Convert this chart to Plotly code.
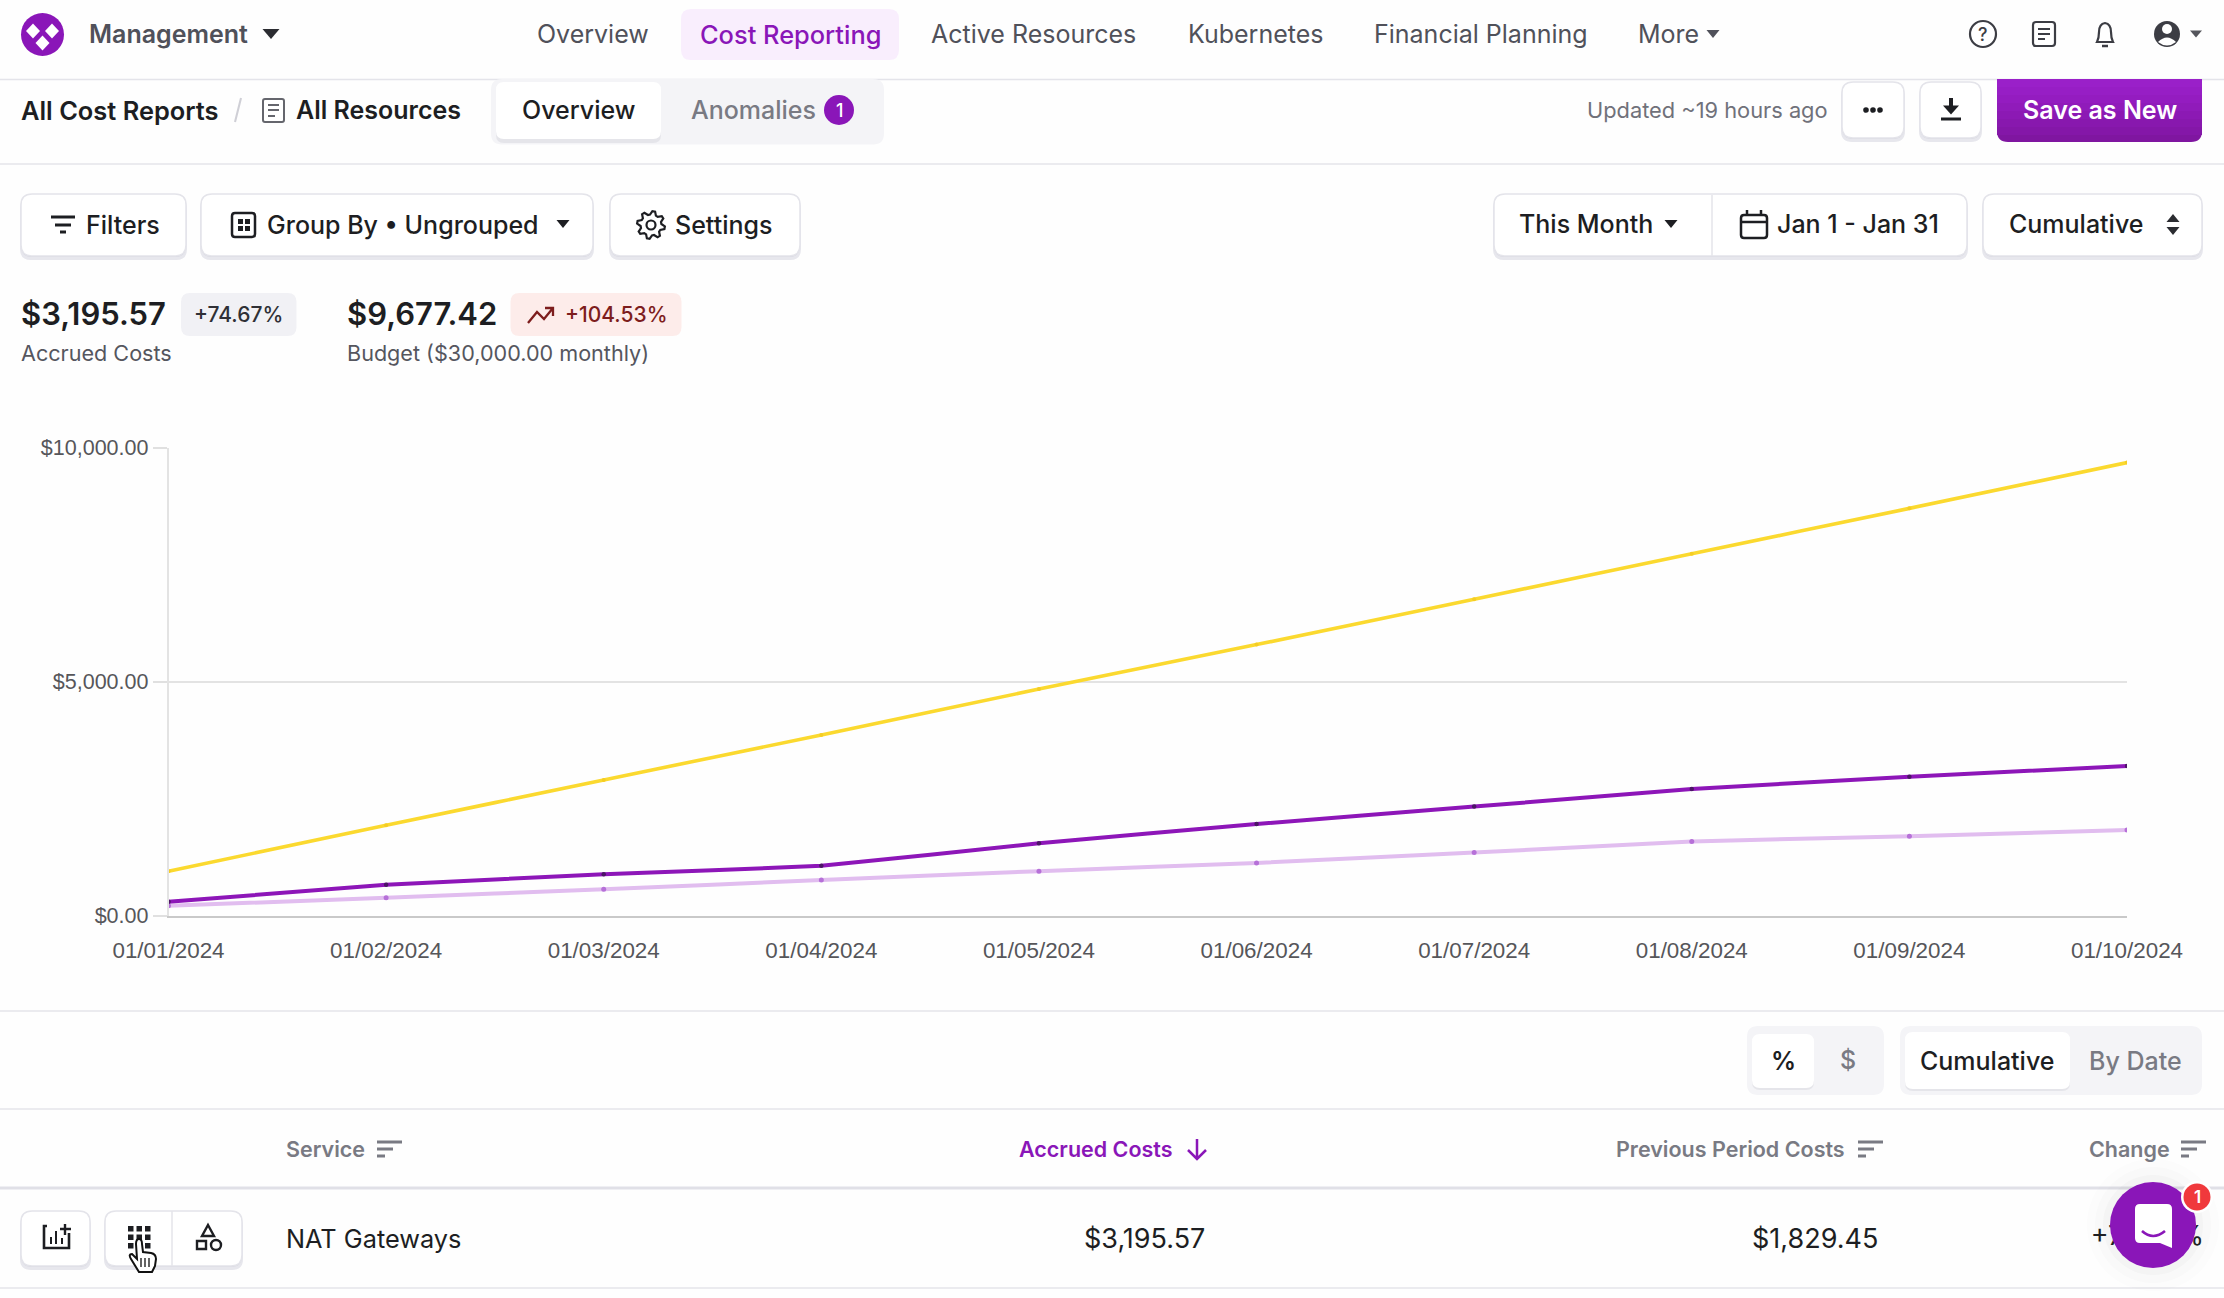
"""Cost report screen: page chrome drawn on a pixel axis, chart on its own axes."""

import math

import plotly.graph_objects as go

W, H = 2224, 1298
UI_FONT = "Inter"
CHART_FONT = "Liberation Sans"
INK = "#1d1e22"
NAV = "#50515a"
MUTED = "#797a83"
PURPLE = "#8a16b8"
BORDER = "#e4e4ea"
PANEL = "#f4f4f7"

DATES = ["01/01/2024", "01/02/2024", "01/03/2024", "01/04/2024", "01/05/2024",
         "01/06/2024", "01/07/2024", "01/08/2024", "01/09/2024", "01/10/2024"]
BUDGET = [950, 1930, 2900, 3860, 4840, 5790, 6760, 7730, 8700, 9677.42]
ACCRUED = [297, 663, 883, 1066, 1546, 1957, 2330, 2704, 2970, 3195.57]
PREVIOUS = [213, 381, 564, 762, 952, 1127, 1348, 1584, 1698, 1829.45]
Y_TICKS = [0, 5000, 10000]
Y_LABELS = ["$0.00", "$5,000.00", "$10,000.00"]

shapes = []
notes = []


def text(x, y, s, size=25, color=NAV, weight=400, anchor="left", family=UI_FONT):
    # annotations keep a small gap on the anchored side
    nudge = {"left": -1.4, "right": 1, "center": 0}[anchor]
    notes.append(dict(x=x + nudge, y=y, xref="x2", yref="y2", text=s, showarrow=False,
                      xanchor=anchor, yanchor="middle", borderpad=0,
                      font=dict(family=family, size=size, color=color, weight=weight)))


def path(d, fill="rgba(0,0,0,0)", color=None, width=2):
    shapes.append(dict(type="path", path=d, xref="x2", yref="y2", fillcolor=fill,
                       line=dict(color=color or "rgba(0,0,0,0)", width=width if color else 0)))


def box(x0, y0, x1, y1, r=10, fill="white", color=None, width=1.5):
    path(f"M{x0+r} {y0} L{x1-r} {y0} Q{x1} {y0} {x1} {y0+r} L{x1} {y1-r} Q{x1} {y1} {x1-r} {y1} "
         f"L{x0+r} {y1} Q{x0} {y1} {x0} {y1-r} L{x0} {y0+r} Q{x0} {y0} {x0+r} {y0} Z",
         fill, color, width)


def circle(cx, cy, r, fill="white", color=None, width=2, opacity=1):
    shapes.append(dict(type="circle", x0=cx-r, x1=cx+r, y0=cy-r, y1=cy+r, xref="x2", yref="y2",
                       fillcolor=fill, opacity=opacity,
                       line=dict(color=color or "rgba(0,0,0,0)", width=width if color else 0)))


def rule(y, color=BORDER, width=1.5):
    path(f"M0 {y} L{W} {y}", color=color, width=width)


def button(x0, y0, x1, y1, r=11):
    box(x0-1, y0+3, x1+1, y1+4, r, "#e7e7ed")
    box(x0, y0, x1, y1+1, r, "#d5d5de")
    box(x0, y0, x1, y1, r, "white", BORDER)


def caret(cx, cy, w=14, h=8, color=INK, up=False):
    tip = cy - h/2 if up else cy + h/2
    base = cy + h/2 if up else cy - h/2
    path(f"M{cx-w/2} {base} L{cx+w/2} {base} L{cx} {tip} Z", color)


def sort_icon(x0, y, color=MUTED):
    for dy, w in ((-7, 25), (0, 16), (7, 8)):
        path(f"M{x0} {y+dy} L{x0+w} {y+dy}", color=color, width=3)


def gear(cx, cy, r_out=14, r_in=10.5, teeth=8):
    pts = []
    for i in range(teeth * 4):
        a = 2 * math.pi * (i + 0.5) / (teeth * 4)
        r = r_out if i % 4 < 2 else r_in
        pts.append(f"{cx + r*math.cos(a):.1f} {cy + r*math.sin(a):.1f}")
    path("M" + " L".join(pts) + " Z", "white", INK, 2.2)
    circle(cx, cy, 4.5, "white", INK, 2.2)


# top navigation
circle(42.5, 34.5, 21.5, PURPLE)
for cx, cy in ((33, 31), (52, 31), (42.5, 43)):
    path(f"M{cx} {cy-7.5} L{cx+7} {cy} L{cx} {cy+7.5} L{cx-7} {cy} Z", "white")
text(89, 34, "Management", 25, NAV, 600)
caret(271, 34, 17, 10, "#2b2c31")
text(537, 34, "Overview", 25)
box(681, 9, 899, 60, 10, "#f9eefd")
text(790, 34, "Cost Reporting", 25.4, PURPLE, 500, "center")
text(931, 34, "Active Resources", 25)
text(1188, 34, "Kubernetes", 25)
text(1374, 34, "Financial Planning", 25)
text(1638, 34, "More", 25)
caret(1713, 34, 13, 8, NAV)
circle(1983, 34, 13, "white", "#3c3d44", 2.2)
text(1983, 34, "?", 18, "#3c3d44", 500, "center")
box(2033, 22, 2055, 46, 3, "white", "#3c3d44", 2.2)
for ly, lw in ((29, 12), (34, 12), (39, 7)):
    path(f"M2038 {ly} L{2038+lw} {ly}", color="#3c3d44", width=2)
path("M2097 42 Q2099 38 2099 32 Q2099 24 2105 23 Q2111 24 2111 32 Q2111 38 2113 42 Z", "white", "#3c3d44", 2.2)
path("M2102 46 L2108 46", color="#3c3d44", width=2.5)
circle(2167, 34, 13, "#3c3d44")
circle(2167, 29, 5, "white")
path("M2158 42 Q2167 33 2176 42 Q2167 49 2158 42 Z", "white")
caret(2196, 34, 12, 7, "#55565c")
rule(79.5)

# report header row
rule(164)
text(21, 110, "All Cost Reports", 25.4, INK, 600)
path("M241 98 L235 122", color="#cfcfd6", width=2)
box(263, 99, 284, 122, 2, "white", "#65666d", 2)
for ly, lw in ((105, 11), (110, 11), (116, 7)):
    path(f"M268 {ly} L{268+lw} {ly}", color="#65666d", width=2)
text(296, 110, "All Resources", 25, INK, 600)
box(491, 79, 884, 144.5, 11, PANEL)
box(496, 84, 661, 143, 8, "#e5e5ea")
box(496, 82, 661, 139, 8, "white")
text(578.5, 110, "Overview", 25, INK, 500, "center")
text(691, 110, "Anomalies", 25, MUTED, 500)
circle(839, 110, 15, PURPLE)
text(839, 110, "1", 18, "white", 500, "center")
text(1587, 110, "Updated ~19 hours ago", 21.8, "#70717a")
button(1842, 82, 1904, 138)
for dx in (-7, 0, 7):
    circle(1873 + dx, 110, 2.8, INK)
button(1920, 82, 1981, 138)
path("M1951 98 L1951 112", color=INK, width=4)
caret(1951, 110, 16, 9, INK)
path("M1941 119 L1961 119", color=INK, width=3)
box(1997, 79, 2202, 142, 11, "#7f16a0")
for i, c in enumerate(("#9a20c9", "#971ec5", "#941cc0", "#901bba", "#8c19b4", "#8818ae", "#8417a8")):
    top = 79 + i * 8
    path(f"M1997 {top} L2202 {top} L2202 {top+8} L1997 {top+8} Z", c)
text(2099.5, 110, "Save as New", 25, "white", 600, "center")

# filter row
button(21, 194, 186, 256)
for ly, x0, x1 in ((217, 51, 75), (225, 55, 71), (232, 60, 66)):
    path(f"M{x0} {ly} L{x1} {ly}", color=INK, width=3)
text(86, 225, "Filters", 25, INK, 500)
button(201, 194, 593, 256)
box(232, 213, 255, 237, 3, "white", INK, 2.5)
for bx in (238, 245):
    for by in (219, 226):
        path(f"M{bx} {by} L{bx+5} {by} L{bx+5} {by+5} L{bx} {by+5} Z", INK)
text(267, 225, "Group By • Ungrouped", 25, INK, 500)
caret(563, 224, 13, 8, INK)
button(610, 194, 800, 256)
gear(651, 225)
text(675, 225, "Settings", 25, INK, 500)

button(1494, 194, 1967, 256)
path("M1712 195 L1712 256", color=BORDER, width=1.5)
text(1519, 224, "This Month", 25, INK, 500)
caret(1671, 224, 13, 8, INK)
box(1741, 215, 1767, 238, 3, "white", INK, 2.5)
path("M1741 222 L1767 222", color=INK, width=2.5)
path("M1747 210 L1747 215 M1761 210 L1761 215", color=INK, width=2.5)
text(1777, 224, "Jan 1 - Jan 31", 25, INK, 500)
button(1983, 194, 2202, 256)
text(2009, 224, "Cumulative", 25, INK, 500)
caret(2173, 218, 13, 8, "#2b2c31", up=True)
caret(2173, 231, 13, 8, "#2b2c31")

# summary numbers
text(21, 313, "$3,195.57", 31, INK, 600)
box(181, 293, 296.5, 336, 9, "#f1f1f5")
text(238.5, 314, "+74.67%", 21, "#2f3036", 500, "center")
text(21, 353, "Accrued Costs", 21.6, "#55565e")
text(347.5, 313, "$9,677.42", 31, INK, 600)
box(510.5, 293, 681.5, 336, 9, "#fdecea")
path("M528 323 L537 312 L544 319 L553 308 M545 308 L553 308 L553 316", color="#7d1d1d", width=2.3)
text(565, 314, "+104.53%", 21, "#7d1d1d", 500)
text(347.5, 353, "Budget ($30,000.00 monthly)", 21.6, "#55565e")

# table controls and header
rule(1011)
box(1747, 1026, 1884, 1095, 11, PANEL)
box(1752, 1036, 1814, 1090, 8, "#e5e5ea")
box(1752, 1034, 1814, 1088, 8, "white")
text(1783, 1061, "%", 25, INK, 600, "center")
text(1848, 1060, "$", 25, MUTED, 500, "center")
box(1900, 1026, 2202, 1095, 11, PANEL)
box(1905, 1034, 2070, 1091, 8, "#e5e5ea")
box(1905, 1032, 2070, 1089, 8, "white")
text(1987.5, 1061, "Cumulative", 25, INK, 500, "center")
text(2089, 1061, "By Date", 25, MUTED, 500)
rule(1109)
text(286, 1149, "Service", 21.5, MUTED, 600)
sort_icon(377, 1149)
text(1019, 1149, "Accrued Costs", 21.5, PURPLE, 600)
path("M1197 1139 L1197 1158 M1188 1150 L1197 1159 L1206 1150", color=PURPLE, width=2.5)
text(1616, 1149, "Previous Period Costs", 21.5, MUTED, 600)
sort_icon(1858, 1149)
text(2089, 1149, "Change", 21.5, MUTED, 600)
sort_icon(2181, 1149)
rule(1188, "#e0e0e7", 3)

# table row
button(21, 1211, 90, 1266)
path("M47 1226 L44 1226 L44 1248 L69 1248 L69 1233", color=INK, width=2.6)
path("M51 1244 L51 1237 M56 1244 L56 1231 M62 1244 L62 1238", color=INK, width=2)
path("M65 1224 L65 1235 M60 1229 L71 1229", color=INK, width=2.4)
button(105, 1211, 242, 1266)
path("M172 1211 L172 1266", color=BORDER, width=1.5)
for col in range(3):
    for row in range(3):
        sx, sy = 128 + col * 8.5, 1226 + row * 8.5
        path(f"M{sx} {sy} L{sx+5.5} {sy} L{sx+5.5} {sy+5.5} L{sx} {sy+5.5} Z", INK)
path("M208 1225 L214 1236 L202 1236 Z", "white", INK, 2.4)
box(197, 1241, 206, 1249, 0, "white", INK, 2.4)
circle(216, 1245, 5, "white", INK, 2.4)
path("M136 1244 Q136 1239 139 1239 Q142 1239 142 1244 L143 1252 L151 1253 Q156 1254 156 1259 "
     "L155 1266 L152 1272 L139 1272 L131 1259 Q128 1254 132 1254 L137 1259 Z", "white", "#111", 2)
path("M145 1258 L145 1267 M149 1258 L149 1267 M141 1258 L141 1267", color="#111", width=1.3)
text(286, 1238, "NAT Gateways", 25.3, INK, 400)
text(1205, 1238, "$3,195.57", 27, INK, 400, "right")
text(1878, 1238, "$1,829.45", 27, INK, 400, "right")
rule(1288)

# chat launcher sits over the last table cell
for r, op in ((66, 0.012), (58, 0.018), (50, 0.03)):
    circle(2153, 1225, r, "#50505a", opacity=op)
circle(2153, 1225, 43, PURPLE)
box(2135, 1204, 2172, 1243, 5, "white")
path("M2160 1243 L2172 1248 L2172 1238 Z", "white")
path("M2142 1231 Q2153 1241 2165 1231", color=PURPLE, width=2.6)
circle(2197, 1197, 16, "white")
circle(2197, 1197, 13.5, "#f0393c")
text(2197, 1197, "1", 17, "white", 600, "center")

fig = go.Figure()
for values, color, width, dot, size in ((BUDGET, "#fbd92f", 3.6, "#f5cd24", 4),
                                        (PREVIOUS, "#e1bdef", 4, "#b670d8", 5),
                                        (ACCRUED, "#8d16b8", 4, "#4c1566", 4.5)):
    fig.add_trace(go.Scatter(x=DATES, y=values, mode="lines+markers", xaxis="x", yaxis="y",
                             line=dict(color=color, width=width, shape="spline", smoothing=0.25),
                             marker=dict(color=dot, size=size), hoverinfo="skip"))

# last cell of the row, mostly covered by the chat launcher
fig.add_trace(go.Scatter(x=[2204], y=[1238], mode="text", text=["+74.67%"], textposition="middle left",
                         textfont=dict(family=UI_FONT, size=27, color=INK), xaxis="x2", yaxis="y2",
                         hoverinfo="skip"))

fig.update_layout(
    width=W, height=H, autosize=False, showlegend=False,
    margin=dict(l=0, r=0, t=0, b=0, pad=0), paper_bgcolor="#fefefe", plot_bgcolor="rgba(0,0,0,0)",
    xaxis=dict(domain=[168.5 / W, 2127 / W], type="category", categoryorder="array", categoryarray=DATES,
               range=[0, 9], automargin=False, showgrid=False, zeroline=False, showline=True,
               linecolor="#c9c9c9", linewidth=2, ticks="",
               tickfont=dict(family=CHART_FONT, size=22.4, color="#56565a"), ticklabelstandoff=13),
    yaxis=dict(domain=[1 - 915.7 / H, 1 - 447.5 / H], range=[0, 10000], tickvals=Y_TICKS, ticktext=Y_LABELS,
               automargin=False, showgrid=True, gridcolor="#e3e3e3", gridwidth=1.5, zeroline=False, showline=True,
               linecolor="#e3e3e3", linewidth=1.5, ticks="outside", ticklen=14, tickwidth=1.5, tickcolor="#e0e0e0",
               tickfont=dict(family=CHART_FONT, size=21.5, color="#56565a")),
    xaxis2=dict(domain=[0, 1], range=[0, W], visible=False, anchor="y2", fixedrange=True, automargin=False),
    yaxis2=dict(domain=[0, 1], range=[H, 0], visible=False, anchor="x2", fixedrange=True, automargin=False),
    shapes=shapes, annotations=notes,
)
fig.write_html("out.html", config=dict(displayModeBar=False),
               post_script="document.body.style.margin='0';document.body.style.overflow='hidden';")
